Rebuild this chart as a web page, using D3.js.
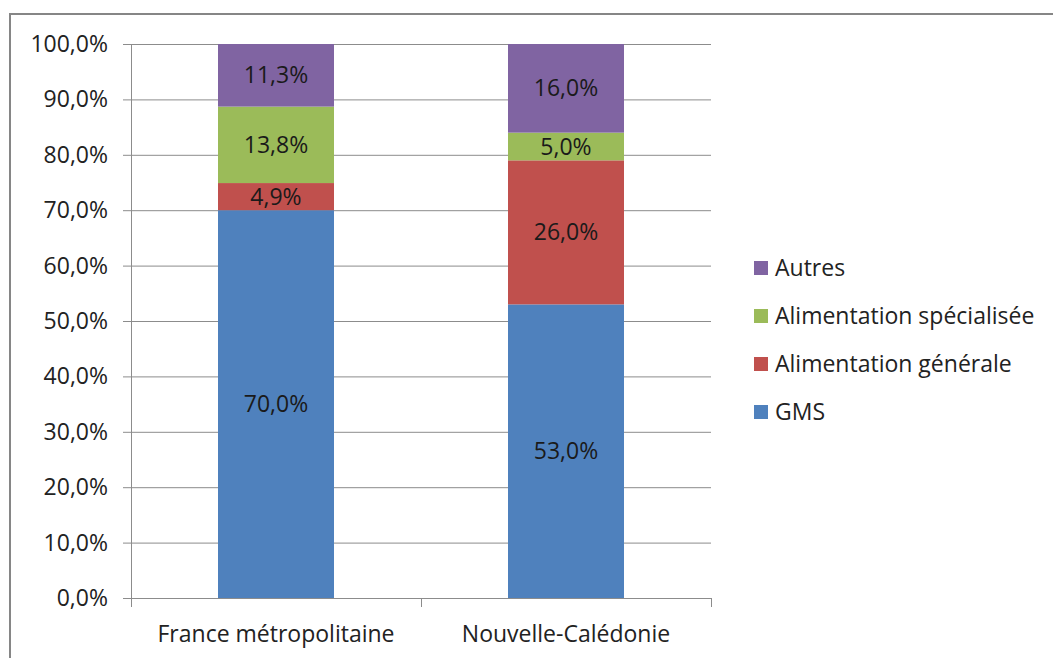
<!DOCTYPE html>
<html>
<head>
<meta charset="utf-8">
<script src="https://cdn.jsdelivr.net/npm/d3@7"></script>
<style>
  html, body { margin: 0; padding: 0; background: #fff; }
  svg { display: block; font-family: "Open Sans", Lato, sans-serif; }
</style>
</head>
<body>
<svg id="chart" width="1053" height="658"></svg>
<script>
// Répartition des ventes par circuit de distribution
const categories = ["France métropolitaine", "Nouvelle-Calédonie"];
const seriesNames = ["GMS", "Alimentation générale", "Alimentation spécialisée", "Autres"];
const gms = [70.0, 53.0];
const alimGenerale = [4.9, 26.0];
const alimSpecialisee = [13.8, 5.0];
const autres = [11.3, 16.0];
const yTicks = [0, 10, 20, 30, 40, 50, 60, 70, 80, 90, 100];
const colors = ["#4F81BD", "#C0504D", "#9BBB59", "#8064A2"];

const seriesValues = [gms, alimGenerale, alimSpecialisee, autres];
const rows = categories.map((c, i) => {
  const r = { cat: c };
  seriesNames.forEach((s, j) => r[s] = seriesValues[j][i]);
  return r;
});

const svg = d3.select("#chart");
const fmt = v => d3.format(".1f")(v).replace(".", ",") + "%";
const FS = 23;

// frame
svg.append("rect").attr("x", 10).attr("y", 14).attr("width", 1060).attr("height", 660)
  .attr("fill", "none").attr("stroke", "#868686").attr("stroke-width", 2);

const plotLeft = 131, plotRight = 711, plotTop = 44, plotBottom = 598;

const x = d3.scaleBand().domain(categories).range([plotLeft, plotRight]).paddingInner(0).paddingOuter(0);
const y = d3.scaleLinear().domain([0, 100]).range([plotBottom, plotTop]);

// gridlines
svg.append("g").selectAll("line").data(yTicks).join("line")
  .attr("x1", plotLeft - 8).attr("x2", plotRight)
  .attr("y1", d => y(d) + 0.5).attr("y2", d => y(d) + 0.5)
  .attr("stroke", "#8c8c8c").attr("stroke-width", 1);

// y axis line
svg.append("line").attr("x1", plotLeft + 0.5).attr("x2", plotLeft + 0.5)
  .attr("y1", plotTop).attr("y2", plotBottom).attr("stroke", "#8c8c8c");

// y tick labels
svg.append("g").selectAll("text").data(yTicks).join("text")
  .attr("x", 108).attr("y", d => y(d)).attr("dy", "0.35em")
  .attr("text-anchor", "end").attr("font-size", FS).attr("fill", "#222")
  .text(d => fmt(d));

// x axis ticks
const xTickPos = [plotLeft, plotLeft + x.bandwidth(), plotRight];
svg.append("g").selectAll("line").data(xTickPos).join("line")
  .attr("x1", d => d + 0.5).attr("x2", d => d + 0.5)
  .attr("y1", plotBottom).attr("y2", plotBottom + 9)
  .attr("stroke", "#8c8c8c");

// bars
const stack = d3.stack().keys(seriesNames)(rows);
const barW = x.bandwidth() * 0.4;
const layers = svg.append("g").selectAll("g").data(stack).join("g")
  .attr("fill", (d, i) => colors[i]);
layers.selectAll("rect").data(d => d).join("rect")
  .attr("x", d => x(d.data.cat) + (x.bandwidth() - barW) / 2)
  .attr("width", barW)
  .attr("y", d => y(d[1]))
  .attr("height", d => y(d[0]) - y(d[1]));

// value labels
stack.forEach(layer => {
  svg.append("g").selectAll("text").data(layer).join("text")
    .attr("x", d => x(d.data.cat) + x.bandwidth() / 2)
    .attr("y", d => (y(d[0]) + y(d[1])) / 2)
    .attr("dy", "0.35em").attr("text-anchor", "middle")
    .attr("font-size", FS).attr("fill", "#1a1a1a")
    .text(d => fmt(d.data[layer.key]));
});

// x category labels
svg.append("g").selectAll("text").data(categories).join("text")
  .attr("x", d => x(d) + x.bandwidth() / 2).attr("y", 634)
  .attr("dy", "0.35em").attr("text-anchor", "middle")
  .attr("font-size", FS).attr("fill", "#222")
  .text(d => d);

// legend (reverse order, top = Autres)
const legendItems = seriesNames.map((s, i) => ({ s, c: colors[i] })).reverse();
const lg = svg.append("g").selectAll("g").data(legendItems).join("g")
  .attr("transform", (d, i) => `translate(754, ${268 + i * 48})`);
lg.append("rect").attr("x", 0).attr("y", -7).attr("width", 14).attr("height", 14)
  .attr("fill", d => d.c);
lg.append("text").attr("x", 21).attr("dy", "0.35em")
  .attr("font-size", FS).attr("fill", "#222").text(d => d.s);
</script>
</body>
</html>
